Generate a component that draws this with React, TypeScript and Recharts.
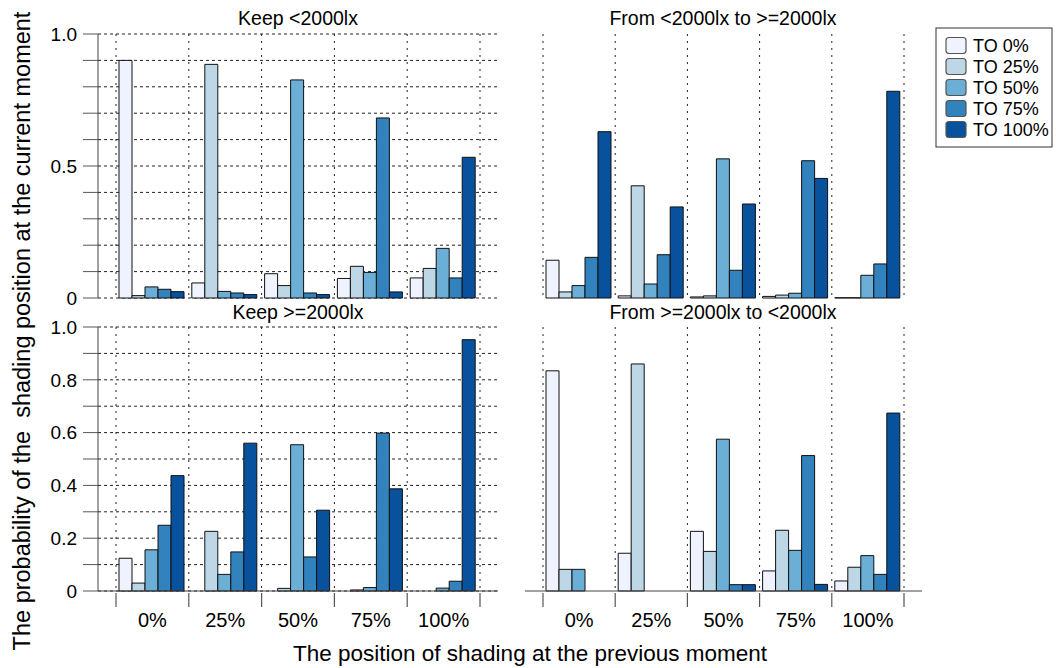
import React from 'react';
import { BarChart, Bar, XAxis, YAxis, CartesianGrid } from 'recharts';

// ---------- data ----------
const categories = ['0%', '25%', '50%', '75%', '100%'];
const seriesKeys = ['to0', 'to25', 'to50', 'to75', 'to100'];
const seriesNames = ['TO 0%', 'TO 25%', 'TO 50%', 'TO 75%', 'TO 100%'];
const seriesColors = ['#eff3ff', '#bdd7e7', '#6baed6', '#3182bd', '#08519c'];

// Keep <2000lx
const keepLowTo0 = [0.9, 0.057, 0.092, 0.074, 0.076];
const keepLowTo25 = [0.009, 0.885, 0.047, 0.12, 0.112];
const keepLowTo50 = [0.042, 0.025, 0.826, 0.097, 0.188];
const keepLowTo75 = [0.033, 0.019, 0.019, 0.682, 0.076];
const keepLowTo100 = [0.024, 0.013, 0.013, 0.023, 0.533];

// From <2000lx to >=2000lx
const lowHighTo0 = [0.143, 0.008, 0.004, 0.006, 0.001];
const lowHighTo25 = [0.023, 0.425, 0.008, 0.011, 0.001];
const lowHighTo50 = [0.047, 0.053, 0.527, 0.018, 0.086];
const lowHighTo75 = [0.154, 0.164, 0.105, 0.52, 0.129];
const lowHighTo100 = [0.63, 0.345, 0.356, 0.453, 0.783];

// Keep >=2000lx
const keepHighTo0 = [0.124, 0, 0, 0, 0];
const keepHighTo25 = [0.03, 0.226, 0.01, 0.004, 0];
const keepHighTo50 = [0.156, 0.063, 0.554, 0.013, 0.011];
const keepHighTo75 = [0.249, 0.148, 0.129, 0.598, 0.037];
const keepHighTo100 = [0.437, 0.56, 0.306, 0.387, 0.952];

// From >=2000lx to <2000lx
const highLowTo0 = [0.834, 0.143, 0.226, 0.076, 0.038];
const highLowTo25 = [0.082, 0.86, 0.15, 0.23, 0.09];
const highLowTo50 = [0.082, 0, 0.575, 0.154, 0.134];
const highLowTo75 = [0, 0, 0.024, 0.513, 0.063];
const highLowTo100 = [0, 0, 0.024, 0.025, 0.674];

const panelTitles = [
  'Keep <2000lx',
  'From <2000lx to >=2000lx',
  'Keep >=2000lx',
  'From >=2000lx to <2000lx',
];

const yTicks = [0, 0.1, 0.2, 0.3, 0.4, 0.5, 0.6, 0.7, 0.8, 0.9, 1.0];
const topYLabels = [0, 0.5, 1.0];
const bottomYLabels = [0, 0.2, 0.4, 0.6, 0.8, 1.0];
const gridTicks = [0, 1, 2, 3, 4, 5];
const labelTicks = [0, 0.5, 1, 1.5, 2, 2.5, 3, 3.5, 4, 4.5, 5];

const yTitle = 'The probability of the  shading position at the current moment';
const xTitle = 'The position of shading at the previous moment';

function buildData(series: number[][]) {
  return categories.map((c, i) => {
    const row: Record<string, any> = { pos: c, idx: i };
    seriesKeys.forEach((k, s) => {
      row[k] = series[s][i];
    });
    return row;
  });
}

const keepLowData = buildData([keepLowTo0, keepLowTo25, keepLowTo50, keepLowTo75, keepLowTo100]);
const lowHighData = buildData([lowHighTo0, lowHighTo25, lowHighTo50, lowHighTo75, lowHighTo100]);
const keepHighData = buildData([keepHighTo0, keepHighTo25, keepHighTo50, keepHighTo75, keepHighTo100]);
const highLowData = buildData([highLowTo0, highLowTo25, highLowTo50, highLowTo75, highLowTo100]);

const FONT = '"Liberation Sans", Arial, Helvetica, sans-serif';
const LINE = '#444';
const GRID = '#222';

const BottomTick = (props: any) => {
  const { x, y, payload } = props;
  const v = payload.value;
  if (Number.isInteger(v)) {
    return <line x1={x} x2={x} y1={y + 2} y2={y + 16} stroke="#555" strokeWidth={1.2} />;
  }
  return (
    <text x={x} y={y + 36} textAnchor="middle" fontSize={20} fill="#000">
      {categories[Math.floor(v)]}
    </text>
  );
};

type PanelProps = {
  data: any[];
  left: number;
  top: number;
  width: number;
  height: number;
  margin: { top: number; right: number; bottom: number; left: number };
  yLabels: number[] | null;
  xLabels: boolean;
};

function Panel({ data, left, top, width, height, margin, yLabels, xLabels }: PanelProps) {
  const pad = { left: 18, right: 18 };
  const dom: [number, number] = [0, 5];
  return (
    <div style={{ position: 'absolute', left, top, width, height }}>
      <BarChart width={width} height={height} data={data} margin={margin} barCategoryGap={3} barGap={0}>
        {xLabels ? (
          <XAxis
            xAxisId="lab"
            dataKey="idx"
            type="number"
            domain={dom}
            allowDataOverflow
            ticks={labelTicks}
            interval={0}
            padding={pad}
            tick={<BottomTick />}
            tickLine={false}
            tickSize={0}
            tickMargin={0}
            height={40}
            axisLine={{ stroke: LINE }}
          />
        ) : (
          <XAxis xAxisId="lab" dataKey="idx" type="number" domain={dom} allowDataOverflow tick={false} tickLine={false} height={0} axisLine={{ stroke: LINE }} />
        )}
        <XAxis xAxisId="cat" dataKey="pos" type="category" padding={pad} height={0} hide />
        <XAxis
          xAxisId="grid"
          dataKey="idx"
          type="number"
          domain={dom}
          allowDataOverflow
          ticks={gridTicks}
          tickCount={6}
          padding={pad}
          height={0}
          hide
        />
        <XAxis xAxisId="top" dataKey="idx" orientation="top" type="number" domain={dom} allowDataOverflow tick={false} tickLine={false} height={0} axisLine={{ stroke: LINE }} />
        {yLabels ? (
          <YAxis
            type="number"
            domain={[0, 1]}
            ticks={yTicks}
            interval={0}
            width={98}
            tickSize={15}
            tickMargin={6}
            tick={{ fontSize: 19, fill: '#000' }}
            tickLine={{ stroke: '#555' }}
            axisLine={{ stroke: LINE }}
            tickFormatter={(v: number) => {
              const show = yLabels.some((l) => Math.abs(l - v) < 1e-6);
              if (!show) return '';
              return v === 0 ? '0' : v.toFixed(1);
            }}
          />
        ) : (
          <YAxis type="number" domain={[0, 1]} ticks={yTicks} width={0} tick={false} tickLine={false} axisLine={{ stroke: LINE }} />
        )}
        <YAxis yAxisId="r" orientation="right" type="number" domain={[0, 1]} width={0} tick={false} tickLine={false} axisLine={{ stroke: LINE }} />
        <CartesianGrid xAxisId="grid" vertical={false} horizontalValues={yTicks} stroke={GRID} strokeDasharray="3 3" />
        <CartesianGrid xAxisId="grid" horizontal={false} verticalValues={gridTicks} stroke={GRID} strokeDasharray="2 5" />
        {seriesKeys.map((k, i) => (
          <Bar
            key={k}
            xAxisId="cat"
            dataKey={k}
            name={seriesNames[i]}
            fill={seriesColors[i]}
            stroke="#111"
            strokeWidth={1}
            isAnimationActive={false}
          />
        ))}
      </BarChart>
    </div>
  );
}

export default function App() {
  const topMargin = (l: number) => ({ top: 34, right: 2, bottom: 14, left: l });
  const botMargin = (l: number) => ({ top: 27, right: 2, bottom: 19, left: l });
  return (
    <div
      style={{
        position: 'absolute',
        left: 0,
        top: 0,
        width: 1056,
        height: 668,
        background: '#fff',
        fontFamily: FONT,
        overflow: 'hidden',
      }}
    >
      <Panel data={keepLowData} left={0} top={0} width={500} height={312} margin={topMargin(0)} yLabels={topYLabels} xLabels={false} />
      <Panel data={lowHighData} left={500} top={0} width={424} height={312} margin={topMargin(25)} yLabels={null} xLabels={false} />
      <Panel data={keepHighData} left={0} top={300} width={500} height={350} margin={botMargin(0)} yLabels={bottomYLabels} xLabels={true} />
      <Panel data={highLowData} left={500} top={300} width={424} height={350} margin={botMargin(25)} yLabels={null} xLabels={true} />

      <svg
        width={1056}
        height={668}
        style={{ position: 'absolute', left: 0, top: 0, pointerEvents: 'none', fontFamily: FONT }}
      >
        <text x={298} y={25} textAnchor="middle" fontSize={19.5} fill="#000">{panelTitles[0]}</text>
        <text x={723} y={25} textAnchor="middle" fontSize={19.5} fill="#000">{panelTitles[1]}</text>
        <text x={298} y={319} textAnchor="middle" fontSize={19.5} fill="#000">{panelTitles[2]}</text>
        <text x={723} y={319} textAnchor="middle" fontSize={19.5} fill="#000">{panelTitles[3]}</text>

        <text x={530} y={661} textAnchor="middle" fontSize={22.5} fill="#000">{xTitle}</text>
        <text
          x={0}
          y={0}
          transform="translate(30,331) rotate(-90)"
          textAnchor="middle"
          fontSize={23.5}
          fill="#000"
          style={{ whiteSpace: 'pre' }}
        >
          {yTitle}
        </text>

        <rect x={936} y={28} width={116} height={119} fill="#fff" stroke="#333" strokeWidth={1} />
        {seriesNames.map((n, i) => (
          <g key={n}>
            <rect x={946} y={37.5 + i * 21} width={20} height={16} rx={3} fill={seriesColors[i]} stroke="#555" strokeWidth={1.2} />
            <text x={973} y={45.5 + i * 21} dominantBaseline="central" fontSize={18} fill="#000">{n}</text>
          </g>
        ))}
      </svg>
    </div>
  );
}
